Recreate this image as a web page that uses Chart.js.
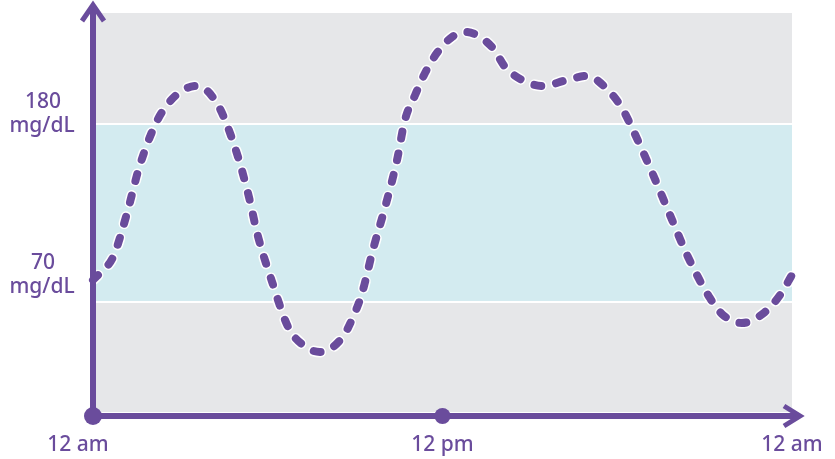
<!DOCTYPE html>
<html>
<head>
<meta charset="utf-8">
<script src="https://cdn.jsdelivr.net/npm/chart.js@4/dist/chart.umd.min.js"></script>
<style>
  html, body { margin: 0; padding: 0; background: #ffffff; }
  canvas { display: block; }
</style>
</head>
<body>
<canvas id="glucose" width="835" height="459"></canvas>
<script>
// Blood glucose over one day: dashed curve over a target band (70–180 mg/dL).
var HOURS   = [0, 0.24, 0.69, 1.17, 1.58, 2.13, 2.54, 3.09, 3.57, 4.29, 4.88, 5.32, 5.67, 6.15, 6.70, 7.21, 7.79,
               8.55, 8.93, 9.24, 9.61, 10.03, 10.44, 10.71, 11.06, 11.40, 11.81, 12.33, 12.77, 13.70, 14.15, 14.73,
               15.45, 16.27, 16.96, 17.68, 18.16, 18.54, 19.19, 19.81, 20.43, 21.18, 21.63, 22.28, 23.07, 23.59, 24];
var GLUCOSE = [83.6, 87.9, 97.8, 125.0, 152.8, 179.4, 191.7, 201.0, 203.5, 191.7, 165.2, 137.4, 110.2, 82.4, 54.5, 43.4, 39.1,
               47.8, 60.7, 75.6, 102.1, 128.7, 157.8, 182.5, 197.9, 211.5, 223.9, 233.8, 236.9, 227.6, 215.2, 207.2,
               203.5, 207.2, 209.7, 201.0, 189.9, 176.3, 150.3, 123.8, 97.8, 72.5, 62.0, 57.0, 63.8, 74.3, 86.7];
var TARGET_RANGE = [70, 180];
var Y_TICKS = [180, 70];
var Y_UNIT = "mg/dL";
var X_TICKS = [0, 12, 24];
var X_LABELS = ["12 am", "12 pm", "12 am"];

var PURPLE = "#6a4c9c";
var GRAY = "#e6e7e9";
var CYAN = "#d3ebf0";
var FONT = "500 21px 'Noto Sans', 'Open Sans', sans-serif";

var points = HOURS.map(function (h, i) { return { x: h, y: GLUCOSE[i] }; });

// grey plot area + target band with thin white edges
var bandPlugin = {
    id: "bands",
    beforeDatasetsDraw: function (c) {
        var a = c.chartArea, y = c.scales.y, ctx = c.ctx;
        var hi = y.getPixelForValue(TARGET_RANGE[1]), lo = y.getPixelForValue(TARGET_RANGE[0]);
        ctx.save();
        ctx.fillStyle = GRAY;
        ctx.fillRect(a.left, a.top, a.right - a.left, a.bottom - a.top);
        ctx.fillStyle = CYAN;
        ctx.fillRect(a.left, hi, a.right - a.left, lo - hi);
        ctx.fillStyle = "#ffffff";
        ctx.fillRect(a.left, hi - 1, a.right - a.left, 2);
        ctx.fillRect(a.left, lo - 1, a.right - a.left, 2);
        ctx.restore();
    }
};

// arrow axes, dots and labels
var axesPlugin = {
    id: "arrowAxes",
    afterDraw: function (c) {
        var a = c.chartArea, x = c.scales.x, y = c.scales.y, ctx = c.ctx;
        var x0 = x.getPixelForValue(0), y0 = a.bottom + 4;
        ctx.save();
        ctx.strokeStyle = PURPLE;
        ctx.fillStyle = PURPLE;
        ctx.lineWidth = 6;
        ctx.lineCap = "butt";
        // y axis
        ctx.beginPath(); ctx.moveTo(x0, y0); ctx.lineTo(x0, 6); ctx.stroke();
        ctx.lineWidth = 5; ctx.lineJoin = "miter";
        ctx.beginPath(); ctx.moveTo(x0 - 11, 21); ctx.lineTo(x0, 5); ctx.lineTo(x0 + 11, 21); ctx.stroke();
        // x axis
        ctx.lineWidth = 6;
        ctx.beginPath(); ctx.moveTo(x0, y0); ctx.lineTo(798, y0); ctx.stroke();
        ctx.lineWidth = 5;
        ctx.beginPath(); ctx.moveTo(784, y0 - 10); ctx.lineTo(800, y0); ctx.lineTo(784, y0 + 10); ctx.stroke();
        // dots
        ctx.beginPath(); ctx.arc(x0, y0, 9, 0, Math.PI * 2); ctx.fill();
        ctx.beginPath(); ctx.arc(x.getPixelForValue(12), y0, 8, 0, Math.PI * 2); ctx.fill();

        ctx.font = FONT;
        ctx.textAlign = "center";
        ctx.textBaseline = "middle";
        var off = [[-22, 2], [-39, -15]];
        Y_TICKS.forEach(function (v, i) {
            var py = y.getPixelForValue(v);
            ctx.fillText(String(v), 43, py + off[i][0]);
            ctx.fillText(Y_UNIT, 42, py + off[i][1]);
        });
        X_TICKS.forEach(function (v, i) {
            var px = x.getPixelForValue(v);
            if (i === 0) px -= 15;
            ctx.fillText(X_LABELS[i], px, 445);
        });
        ctx.restore();
    }
};

var line = {
    data: points, pointRadius: 0, cubicInterpolationMode: "monotone",
    borderCapStyle: "round", borderJoinStyle: "round", borderDash: [7, 15], fill: false, clip: false
};

new Chart(document.getElementById("glucose").getContext("2d"), {
    type: "line",
    data: {
        datasets: [
            Object.assign({}, line, { borderColor: PURPLE, borderWidth: 8, order: 1 }),
            Object.assign({}, line, { borderColor: "#ffffff", borderWidth: 11, order: 2 })
        ]
    },
    plugins: [bandPlugin, axesPlugin],
    options: {
        responsive: false, animation: false,
        layout: { padding: { left: 93, right: 43, top: 13, bottom: 47 } },
        scales: {
            x: { type: "linear", min: 0, max: 24, display: false },
            y: { min: 2, max: 248.6, display: false }
        },
        plugins: { legend: { display: false }, tooltip: { enabled: false } }
    }
});
</script>
</body>
</html>
